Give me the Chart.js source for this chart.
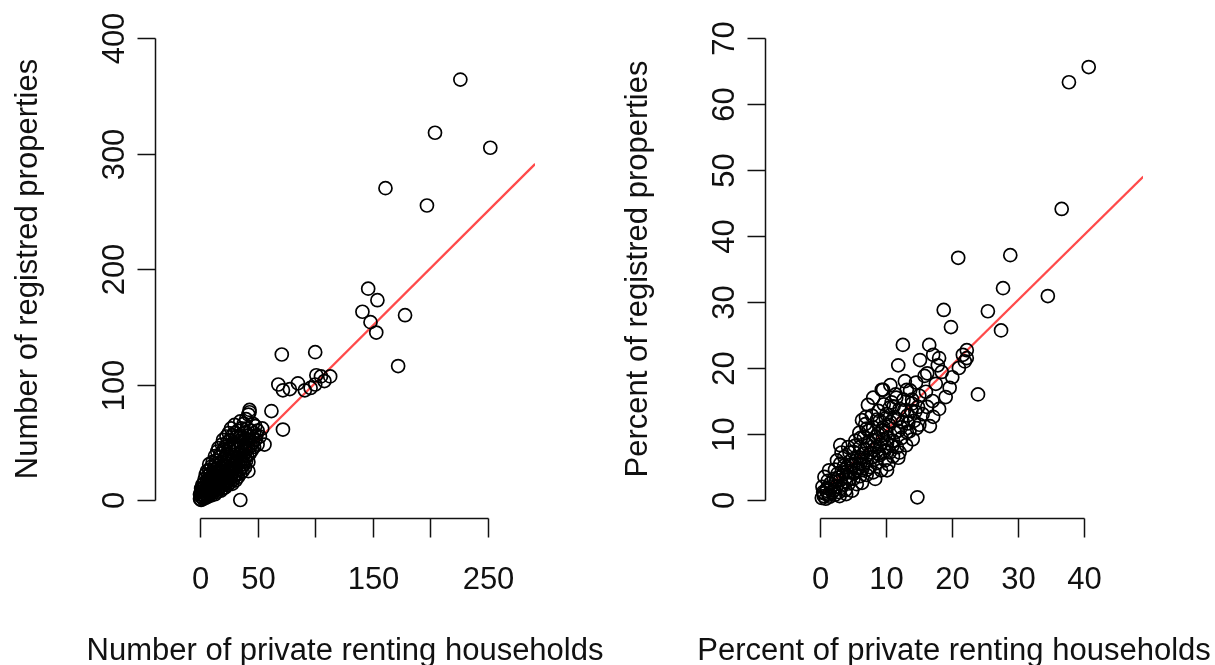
<!DOCTYPE html>
<html>
<head>
<meta charset="utf-8">
<script src="https://cdn.jsdelivr.net/npm/chart.js@4"></script>
<style>
  html, body { margin: 0; padding: 0; background: #fff; }
  #wrap { position: relative; width: 1215px; height: 665px; }
  canvas { position: absolute; top: 0; }
</style>
</head>
<body>
<div id="wrap">
  <canvas id="left" width="607" height="665" style="left:0"></canvas>
  <canvas id="right" width="608" height="665" style="left:607px"></canvas>
</div>
<script>
const FONT = '"Liberation Sans", Arial, sans-serif';
const RED = '#ff4a4a';

// left panel: counts
const leftX = [
  226, 204, 252, 161, 197, 146, 154, 141, 148, 153, 178, 172,
  71, 100, 105, 113, 101, 108, 68, 72, 78, 85, 91, 100, 96, 62, 72, 43, 42, 30, 48, 56, 42, 35,
  0, 1, 1, 2, 2, 3, 3, 3, 4, 4, 4, 5, 5, 5, 1, 2, 3, 4, 5, 2, 0, 1,
  6, 6, 6, 6, 7, 7, 7, 7, 7, 8, 8, 8, 8, 8, 9, 9, 9, 9, 10, 10, 10, 10, 10, 6, 8,
  11, 11, 11, 11, 11, 12, 12, 12, 12, 13, 13, 13, 13, 13, 13, 14, 14, 14, 14, 15, 15, 15, 15, 15,
  16, 16, 16, 16, 16, 17, 17, 17, 17, 18, 18, 18, 18, 18, 19, 19, 19, 19, 19, 20, 20, 20, 20, 20, 20,
  21, 21, 21, 21, 22, 22, 22, 22, 22, 23, 23, 23, 23, 23, 24, 24, 24, 24, 24, 25, 25, 25, 25, 25,
  26, 26, 26, 26, 26, 27, 27, 27, 27, 27, 28, 28, 28, 28, 28, 29, 29, 29, 29, 30, 30, 30, 30,
  31, 31, 31, 31, 32, 32, 32, 32, 33, 33, 33, 33, 34, 34, 34, 35, 35, 35, 35, 35,
  36, 36, 36, 36, 37, 37, 37, 37, 38, 38, 38, 38, 39, 39, 39, 39, 40, 40, 40, 40,
  41, 41, 41, 42, 42, 42, 43, 43, 43, 44, 44, 45, 45, 46, 46, 47, 47, 48, 49, 50, 50, 52, 54
];
const leftY = [
  364, 318, 305, 270, 255, 183, 173, 163, 154, 145, 160, 116,
  126, 128, 107, 107, 108, 103, 100, 95, 96, 101, 95, 100, 97, 77, 61, 78, 74, 65, 64, 48, 25, 0,
  1, 0, 3, 2, 5, 1, 4, 8, 3, 6, 11, 2, 5, 9, 7, 10, 14, 18, 22, 13, 5, 10,
  4, 7, 12, 17, 3, 6, 10, 15, 21, 5, 9, 13, 19, 26, 6, 11, 16, 23, 4, 8, 13, 18, 29, 25, 31,
  6, 10, 15, 21, 33, 8, 12, 18, 26, 5, 9, 14, 20, 30, 38, 11, 16, 23, 34, 7, 13, 19, 27, 42,
  9, 15, 21, 30, 45, 11, 18, 25, 37, 8, 14, 21, 28, 40, 12, 17, 24, 33, 48, 10, 15, 22, 30, 43, 52,
  13, 19, 27, 36, 11, 17, 24, 32, 46, 15, 21, 29, 40, 55, 13, 19, 26, 35, 50, 17, 23, 31, 44, 58,
  15, 21, 28, 38, 52, 19, 25, 34, 47, 62, 14, 23, 30, 42, 56, 18, 27, 37, 50, 21, 31, 45, 58,
  17, 25, 34, 48, 22, 29, 40, 55, 20, 33, 44, 60, 26, 37, 51, 23, 30, 41, 56, 68,
  28, 35, 47, 62, 25, 33, 42, 54, 31, 39, 50, 66, 28, 36, 45, 58, 34, 42, 53, 70,
  38, 48, 62, 33, 45, 56, 40, 52, 76, 47, 60, 43, 55, 50, 66, 46, 58, 52, 56, 48, 60, 55, 62
];
const leftFitX = [0, 291];
const leftFitY = [2, 291];
const leftXTicks = [0, 50, 100, 150, 200, 250];
const leftXLabels = ['0', '50', '', '150', '', '250'];
const leftYTicks = [0, 100, 200, 300, 400];

// right panel: percentages
const rightX = [
  40.7, 37.7, 36.6, 34.5, 28.8, 27.7, 25.4, 27.4, 20.9, 18.7, 19.8, 23.9, 19.6, 14.7,
  22.2, 22.2, 21.6, 21.9, 11.8, 15.1, 17.1, 17.8, 16.2, 9.5, 13.1, 7.2, 13.9, 14.8, 16.2, 17.1,
  6.3, 14.6, 13.1, 10.1, 3.0, 11.8, 10.1, 12.5, 16.5, 18.0, 9.3, 8.0, 10.5, 11.5,
  0.2, 0.5, 0.8, 1.0, 1.2, 1.5, 0.3, 1.8, 2.0, 0.6, 1.3, 2.2,
  2.4, 2.6, 2.8, 3.0, 3.0, 3.3, 3.5, 3.6, 3.8, 4.0, 4.0, 2.5, 3.2, 4.2,
  4.3, 4.5, 4.6, 4.8, 5.0, 5.0, 5.0, 5.3, 5.5, 5.5, 5.7, 5.9, 6.0, 6.0, 6.0,
  6.3, 6.4, 6.5, 6.6, 6.8, 7.0, 7.0, 7.2, 7.3, 7.5, 7.6, 7.8, 8.0, 8.0, 8.0, 8.0,
  8.3, 8.5, 8.5, 8.7, 8.8, 9.0, 9.0, 9.2, 9.4, 9.5, 9.6, 9.8, 10.0, 10.0, 10.0,
  10.3, 10.5, 10.6, 10.8, 11.0, 11.0, 11.2, 11.4, 11.6, 11.8, 12.0, 12.0,
  12.3, 12.5, 12.6, 12.8, 13.0, 13.2, 13.5, 13.6, 13.8, 14.0, 14.2, 14.5, 15.0, 15.0, 15.5,
  15.8, 16.0, 16.6, 17.0, 17.5, 18.0, 18.4, 19.0, 20.0, 21.0,
  0.5, 0.9, 1.4, 1.6, 2.1, 2.3, 1.1, 0.4, 2.7, 3.1, 3.4, 3.9, 4.1, 4.4, 4.7, 5.1, 5.4, 5.8,
  6.2, 6.5, 6.9, 7.1, 7.4, 7.7, 8.1, 8.4, 8.8, 9.1, 9.4, 9.7, 10.2, 10.4, 10.9, 11.3, 11.7,
  12.2, 12.7, 13.3, 13.9, 14.4, 5.2, 6.1, 7.0, 4.4, 3.6, 2.2, 8.6, 9.9, 11.1, 6.9, 2.9, 3.9, 10.6
];
const rightY = [
  65.6, 63.3, 44.1, 30.9, 37.1, 32.1, 28.6, 25.7, 36.7, 28.8, 26.2, 16.0, 17.0, 0.4,
  22.7, 21.5, 22.0, 21.0, 20.4, 21.2, 22.0, 20.4, 19.2, 16.7, 16.7, 14.4, 15.2, 14.1, 14.1, 12.6,
  12.1, 10.9, 10.3, 8.6, 8.3, 6.4, 4.5, 23.5, 23.5, 21.5, 16.7, 15.5, 14.0, 15.5,
  0.3, 1.0, 0.2, 1.8, 0.8, 2.5, 2.0, 1.2, 3.2, 3.5, 4.5, 0.8,
  2.0, 4.0, 1.2, 3.0, 5.5, 2.2, 4.2, 6.5, 1.5, 3.5, 5.0, 6.0, 7.2, 8.0,
  2.5, 4.2, 6.0, 1.4, 3.2, 5.2, 7.3, 9.0, 2.4, 4.5, 6.5, 10.2, 3.6, 5.5, 8.0,
  2.6, 4.8, 7.0, 9.5, 11.5, 3.8, 6.0, 8.3, 10.5, 5.0, 7.2, 12.8, 4.2, 6.5, 9.0, 11.0,
  3.2, 5.6, 8.0, 10.0, 13.5, 6.8, 12.0, 4.5, 9.2, 11.0, 14.5, 6.0, 8.0, 10.2, 13.0,
  5.4, 7.2, 11.8, 14.8, 6.6, 9.0, 12.6, 16.0, 8.0, 10.5, 13.8, 7.2,
  9.4, 11.8, 15.2, 18.0, 8.3, 12.8, 10.4, 16.6, 13.5, 9.2, 12.0, 17.8, 11.4, 15.8, 13.0,
  18.8, 16.4, 11.2, 15.0, 17.6, 13.8, 19.4, 15.6, 18.6, 20.0,
  0.6, 1.4, 0.5, 1.9, 1.5, 2.8, 2.9, 1.2, 3.4, 1.8, 3.8, 2.8, 4.4, 3.2, 5.4, 4.0, 6.0, 4.8,
  6.4, 5.4, 7.6, 4.6, 8.8, 6.4, 7.6, 9.6, 7.0, 8.4, 10.6, 7.4, 9.4, 11.4, 8.2, 10.2, 12.2,
  11.0, 13.6, 11.6, 14.6, 13.4, 8.2, 9.4, 10.8, 7.2, 5.2, 4.6, 12.2, 12.4, 14.2, 12.6, 0.6, 0.9, 17.4
];
const rightFitX = [0, 49];
const rightFitY = [0.8, 49];
const rightXTicks = [0, 10, 20, 30, 40];
const rightXLabels = ['0', '10', '20', '30', '40'];
const rightYTicks = [0, 10, 20, 30, 40, 50, 60, 70];

function rAxes(opts) {
  return {
    id: 'rAxes',
    afterDraw(chart) {
      const { ctx, chartArea: a, scales: { x, y } } = chart;
      ctx.save();
      ctx.strokeStyle = '#111';
      ctx.fillStyle = '#111';
      ctx.lineWidth = 1.5;

      // bottom axis
      const xb = Math.round(a.bottom) + 0.5;
      const xs = opts.xTicks.map(v => Math.round(x.getPixelForValue(v)) + 0.5);
      ctx.beginPath();
      ctx.moveTo(xs[0], xb);
      ctx.lineTo(xs[xs.length - 1], xb);
      xs.forEach(p => { ctx.moveTo(p, xb); ctx.lineTo(p, xb + 19); });
      ctx.stroke();
      ctx.font = '31px ' + FONT;
      ctx.textAlign = 'center';
      ctx.textBaseline = 'alphabetic';
      xs.forEach((p, i) => ctx.fillText(opts.xLabels[i], p, a.bottom + 71));
      ctx.fillText(opts.xTitle, (a.left + a.right) / 2, a.bottom + 142);

      // left axis
      const yl = Math.round(a.left) + 0.5;
      const ys = opts.yTicks.map(v => Math.round(y.getPixelForValue(v)) + 0.5);
      ctx.beginPath();
      ctx.moveTo(yl, ys[0]);
      ctx.lineTo(yl, ys[ys.length - 1]);
      ys.forEach(p => { ctx.moveTo(yl, p); ctx.lineTo(yl - 18, p); });
      ctx.stroke();
      ys.forEach((p, i) => {
        ctx.save();
        ctx.translate(a.left - 31, p);
        ctx.rotate(-Math.PI / 2);
        ctx.fillText(String(opts.yTicks[i]), 0, 0);
        ctx.restore();
      });
      ctx.save();
      ctx.translate(a.left - 118, (a.top + a.bottom) / 2);
      ctx.rotate(-Math.PI / 2);
      ctx.fillText(opts.yTitle, 0, 0);
      ctx.restore();
      ctx.restore();
    }
  };
}

function panel(id, xs, ys, fitX, fitY, range, pad, axes) {
  const pts = xs.map((v, i) => ({ x: v, y: ys[i] }));
  const fit = fitX.map((v, i) => ({ x: v, y: fitY[i] }));
  return new Chart(document.getElementById(id), {
    type: 'scatter',
    data: {
      datasets: [
        {
          data: pts,
          pointStyle: 'circle',
          pointRadius: 6.5,
          pointBorderWidth: 1.7,
          borderColor: '#000',
          backgroundColor: 'rgba(0,0,0,0)',
          clip: false
        },
        {
          type: 'line',
          data: fit,
          borderColor: RED,
          borderWidth: 2.3,
          pointRadius: 0,
          fill: false,
          clip: 0
        }
      ]
    },
    options: {
      responsive: false,
      animation: false,
      layout: { padding: pad },
      plugins: { legend: { display: false }, tooltip: { enabled: false } },
      scales: {
        x: { type: 'linear', min: range.x0, max: range.x1, display: false },
        y: { type: 'linear', min: range.y0, max: range.y1, display: false }
      }
    },
    plugins: [rAxes(axes)]
  });
}

panel('left', leftX, leftY, leftFitX, leftFitY,
  { x0: -39.06, x1: 290.8, y0: -15.58, y1: 415.6 },
  { left: 155, right: 72, top: 20, bottom: 147 },
  { xTicks: leftXTicks, xLabels: leftXLabels, yTicks: leftYTicks,
    xTitle: 'Number of private renting households', yTitle: 'Number of registred properties' });

panel('right', rightX, rightY, rightFitX, rightFitY,
  { x0: -8.42, x1: 48.94, y0: -2.727, y1: 72.73 },
  { left: 158, right: 72, top: 20, bottom: 147 },
  { xTicks: rightXTicks, xLabels: rightXLabels, yTicks: rightYTicks,
    xTitle: 'Percent of private renting households', yTitle: 'Percent of registred properties' });
</script>
</body>
</html>
